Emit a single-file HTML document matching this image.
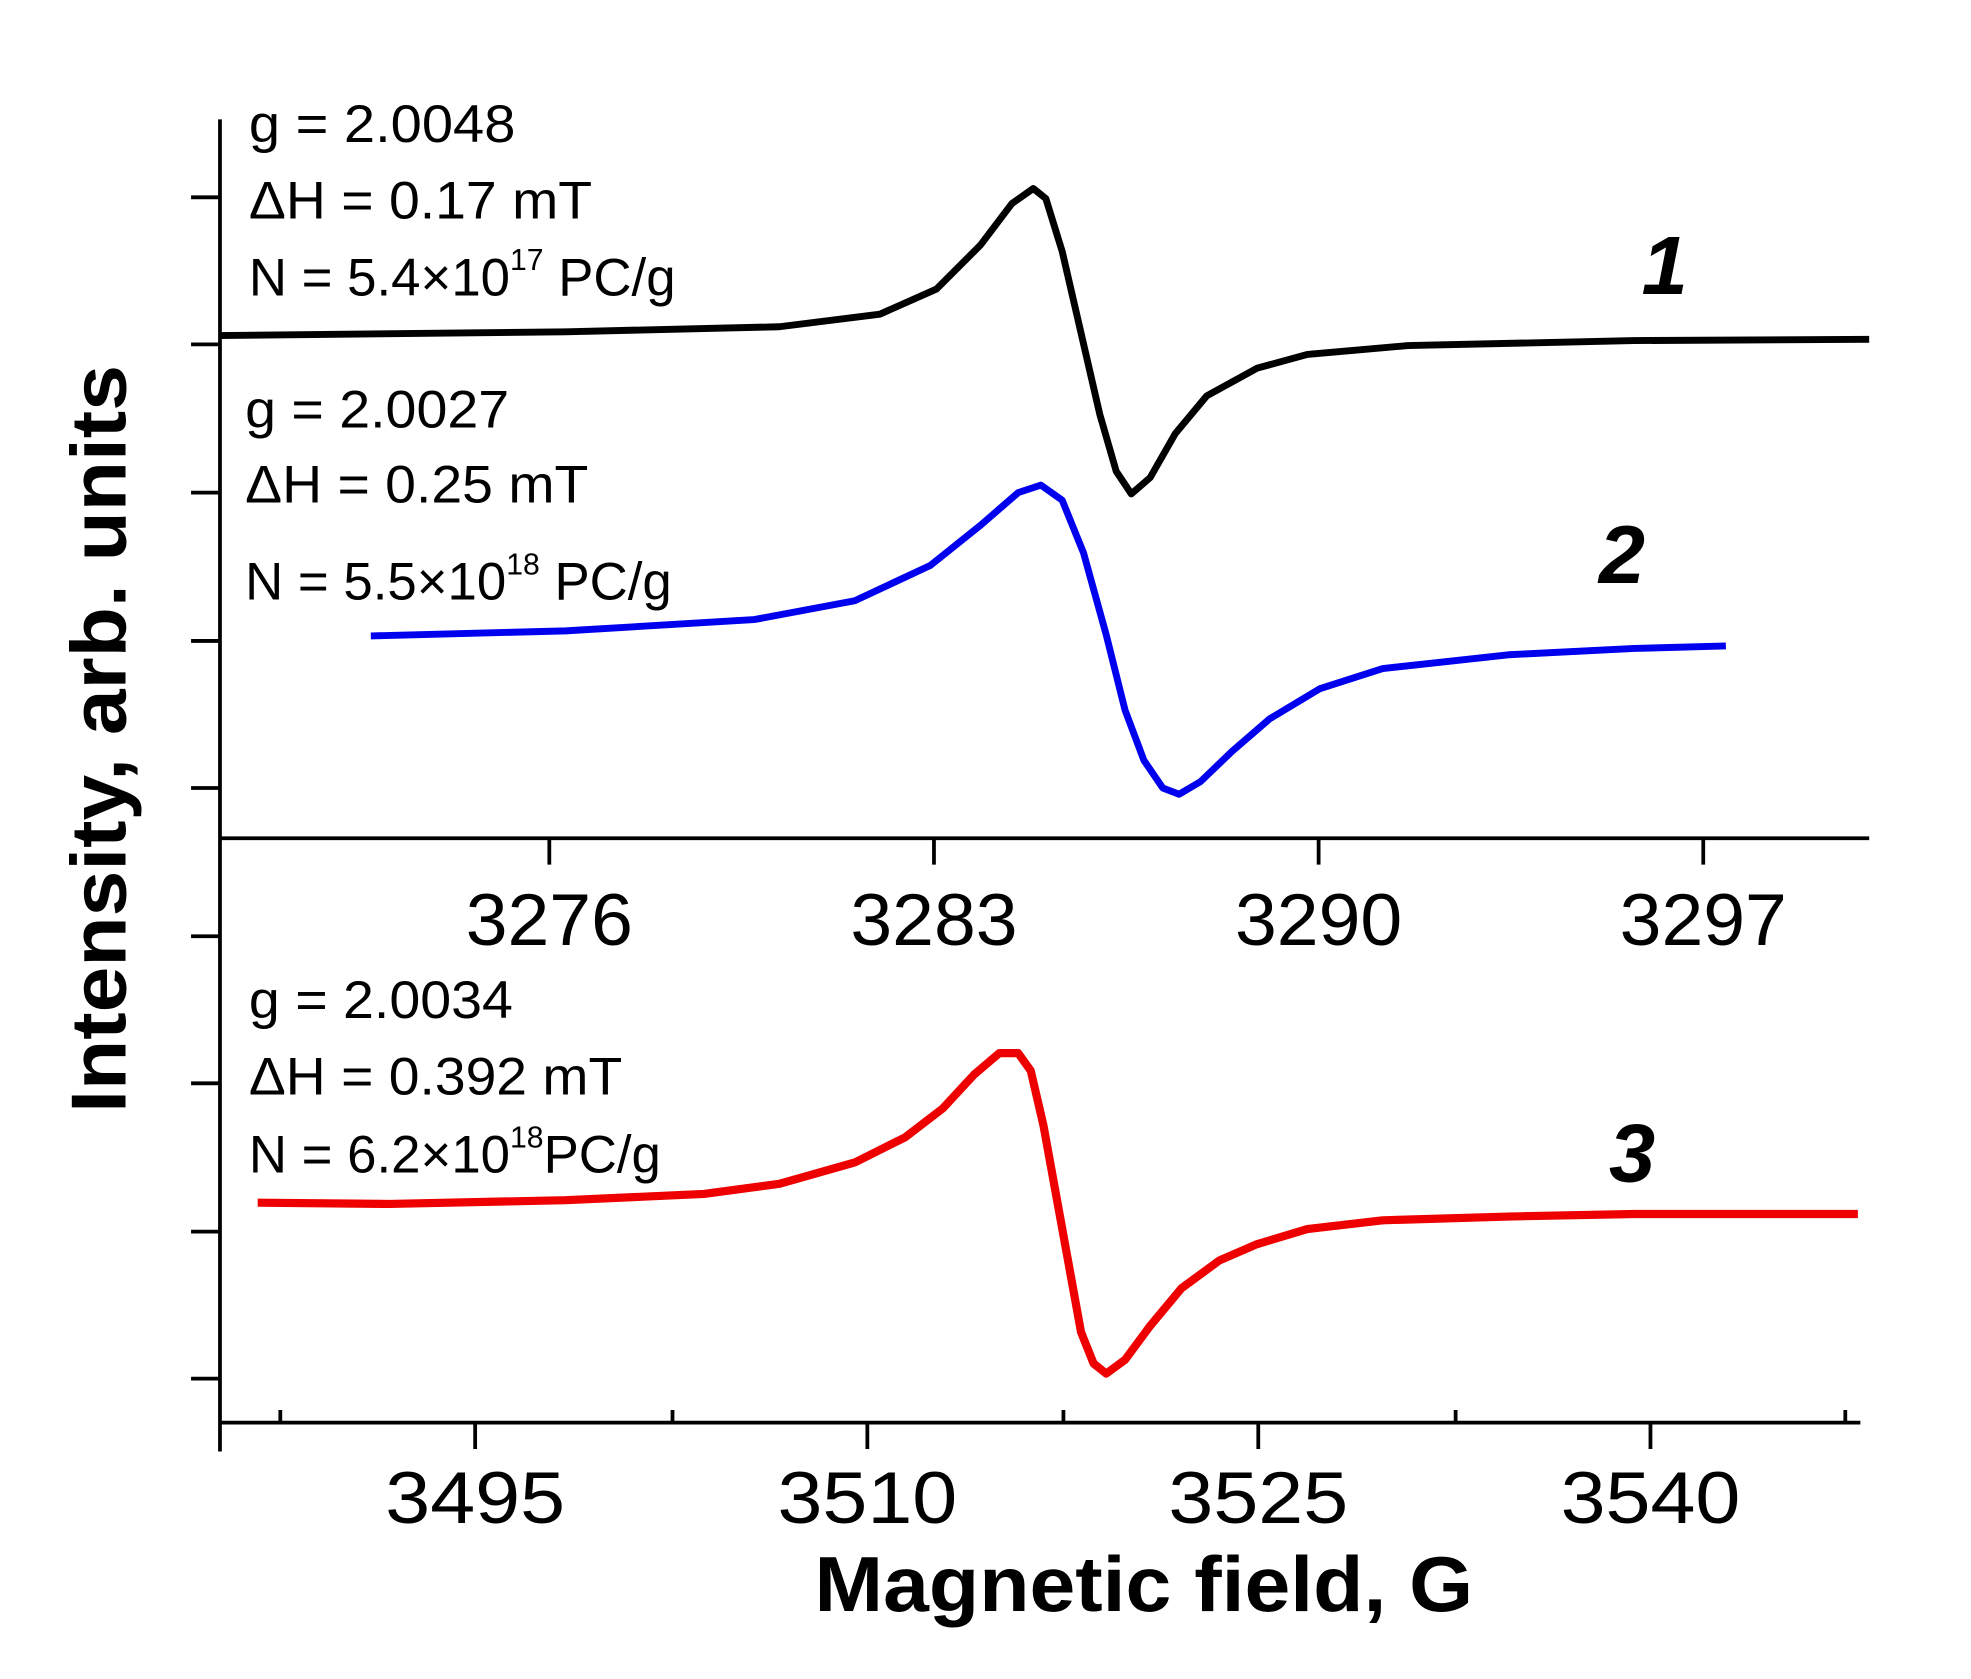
<!DOCTYPE html>
<html><head><style>html,body{margin:0;padding:0;background:#fff}svg{display:block}</style></head>
<body>
<svg width="1971" height="1679" viewBox="0 0 1568 1336" preserveAspectRatio="none" xmlns="http://www.w3.org/2000/svg" font-family="Liberation Sans, sans-serif">
<rect width="1568" height="1336" fill="#fff"/>
<g stroke="#000" stroke-width="3" fill="none">
<line x1="175" y1="95" x2="175" y2="1155"/>
<path d="M152 157H175M152 274H175M152 392H175M152 510H175M152 627H175M152 745H175M152 862H175M152 980H175M152 1097H175"/>
<line x1="175" y1="667" x2="1487" y2="667"/>
<path d="M437 667V688M743 667V688M1049 667V688M1355 667V688"/>
<line x1="175" y1="1132" x2="1480" y2="1132"/>
<path d="M378 1132V1153M690 1132V1153M1001 1132V1153M1313 1132V1153M223 1132V1122M535 1132V1122M846 1132V1122M1158 1132V1122M1468 1132V1122"/>
</g>
<g font-size="58" text-anchor="middle" fill="#000" lengthAdjust="spacingAndGlyphs">
<text x="437" y="752" textLength="133" lengthAdjust="spacingAndGlyphs">3276</text><text x="743" y="752" textLength="133" lengthAdjust="spacingAndGlyphs">3283</text><text x="1049" y="752" textLength="133" lengthAdjust="spacingAndGlyphs">3290</text><text x="1355" y="752" textLength="133" lengthAdjust="spacingAndGlyphs">3297</text>
<text x="378" y="1212" textLength="143" lengthAdjust="spacingAndGlyphs">3495</text><text x="690" y="1212" textLength="143" lengthAdjust="spacingAndGlyphs">3510</text><text x="1001" y="1212" textLength="143" lengthAdjust="spacingAndGlyphs">3525</text><text x="1313" y="1212" textLength="143" lengthAdjust="spacingAndGlyphs">3540</text>
</g>
<text x="910" y="1282" font-size="62" font-weight="bold" text-anchor="middle" textLength="524" lengthAdjust="spacingAndGlyphs">Magnetic field, G</text>
<text transform="translate(100,588) rotate(-90)" font-size="62" font-weight="bold" text-anchor="middle" textLength="595" lengthAdjust="spacingAndGlyphs">Intensity, arb. units</text>
<path d="M175 267 L450 264 L620 260 L700 250 L745 230 L780 195 L805 162 L822 150 L832 158 L845 200 L860 265 L875 330 L888 375 L900 393 L915 380 L935 345 L960 315 L1000 293 L1040 282 L1120 275 L1300 271 L1487 270" stroke="#000" stroke-width="5.5" fill="none" stroke-linejoin="round"/>
<path d="M295 506 L450 502 L600 493 L680 478 L740 450 L780 418 L810 392 L828 386 L845 398 L862 440 L880 505 L895 565 L910 605 L925 627 L938 632 L955 622 L980 598 L1010 572 L1050 548 L1100 532 L1200 521 L1300 516 L1373 514" stroke="#0000ee" stroke-width="5.5" fill="none" stroke-linejoin="round"/>
<path d="M205 957 L310 958 L450 955 L560 950 L620 942 L680 925 L720 905 L750 882 L775 855 L795 838 L810 838 L820 852 L830 895 L840 950 L850 1005 L860 1060 L870 1085 L880 1093 L895 1082 L915 1055 L940 1025 L970 1003 L1000 990 L1040 978 L1100 971 L1200 968 L1300 966 L1478 966" stroke="#ee0000" stroke-width="6.5" fill="none" stroke-linejoin="round"/>
<g font-size="42" fill="#000">
<text x="198" y="113" textLength="212" lengthAdjust="spacingAndGlyphs">g = 2.0048</text>
<text x="198" y="174" textLength="273" lengthAdjust="spacingAndGlyphs">ΔH = 0.17 mT</text>
<text x="198" y="235">N = 5.4×10<tspan font-size="24" dy="-20">17</tspan><tspan dy="20"> PC/g</tspan></text>
<text x="195" y="340" textLength="210" lengthAdjust="spacingAndGlyphs">g = 2.0027</text>
<text x="195" y="400" textLength="273" lengthAdjust="spacingAndGlyphs">ΔH = 0.25 mT</text>
<text x="195" y="477">N = 5.5×10<tspan font-size="24" dy="-20">18</tspan><tspan dy="20"> PC/g</tspan></text>
<text x="198" y="810" textLength="210" lengthAdjust="spacingAndGlyphs">g = 2.0034</text>
<text x="198" y="871" textLength="297" lengthAdjust="spacingAndGlyphs">ΔH = 0.392 mT</text>
<text x="198" y="933">N = 6.2×10<tspan font-size="24" dy="-20">18</tspan><tspan dy="20">PC/g</tspan></text>
</g>
<g font-size="66" font-weight="bold" font-style="italic" fill="#000">
<text x="1306" y="234">1</text><text x="1272" y="464">2</text><text x="1280" y="940">3</text>
</g>
</svg>
</body></html>
